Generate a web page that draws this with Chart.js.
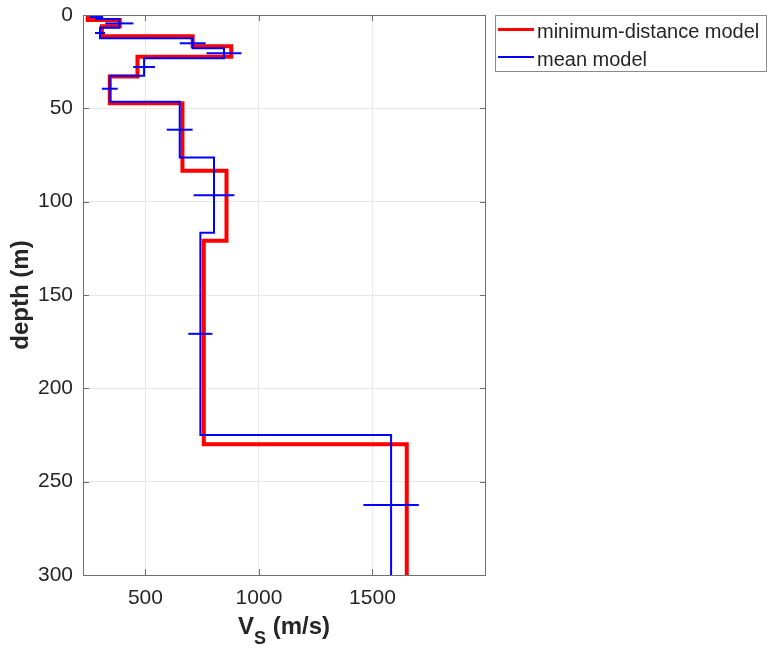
<!DOCTYPE html>
<html>
<head>
<meta charset="utf-8">
<script src="https://cdn.jsdelivr.net/npm/chart.js@4"></script>
<style>
  body { margin: 0; background: #fff; }
  #wrap { width: 767px; height: 649px; }
</style>
</head>
<body>
<div id="wrap"><canvas id="vsChart" width="767" height="649"></canvas></div>
<script>
// minimum-distance model: layer Vs (m/s) and layer boundaries (m)
const minDistVs = [246, 387, 308, 708, 878, 465, 343, 663, 857, 757, 1651];
const minDistDepth = [0, 2.7, 6, 11.4, 16.8, 22.3, 33, 47.3, 83.4, 121, 230, 300];

// mean model with +/- spread at layer mid-depth
const meanVs = [284, 385, 300, 708, 846, 494, 343, 651, 802, 742, 1582];
const meanDepth = [0, 2.2, 6.8, 12.5, 17.8, 23.2, 32.5, 46.5, 76.4, 116.6, 225, 300];
const meanErr = [30, 62, 22, 57, 77, 48, 35, 57, 90, 53, 122];

const xTicks = [500, 1000, 1500];

const FONT = '"Liberation Sans", Arial, Helvetica, sans-serif';
const TXT = '#262626';

// layer velocities -> step profile
function profile(vs, depth) {
    const pts = [];
    vs.forEach((v, i) => {
        pts.push({x: v, y: depth[i]});
        pts.push({x: v, y: depth[i + 1]});
    });
    return pts;
}

const errSets = meanVs.map((v, i) => {
    const mid = (meanDepth[i] + meanDepth[i + 1]) / 2;
    return {
        label: 'err' + i,
        data: [{x: v - meanErr[i], y: mid}, {x: v + meanErr[i], y: mid}],
        borderColor: '#0000ff',
        borderWidth: 2,
        showLine: true,
        pointRadius: 0,
        order: 0
    };
});

// box, inward ticks, axis titles and legend
const decor = {
    id: 'decor',
    afterDraw(chart) {
        const {ctx, chartArea: a, scales: {x, y}} = chart;
        ctx.save();
        ctx.strokeStyle = '#6e6e6e';
        ctx.lineWidth = 1;
        ctx.strokeRect(a.left + 0.5, a.top + 0.5, a.right - a.left - 1, a.bottom - a.top);
        ctx.beginPath();
        x.ticks.forEach(t => {
            const px = Math.round(x.getPixelForValue(t.value)) + 0.5;
            ctx.moveTo(px, a.bottom); ctx.lineTo(px, a.bottom - 6);
            ctx.moveTo(px, a.top); ctx.lineTo(px, a.top + 6);
        });
        y.ticks.forEach(t => {
            const py = Math.round(y.getPixelForValue(t.value)) + 0.5;
            ctx.moveTo(a.left, py); ctx.lineTo(a.left + 6, py);
            ctx.moveTo(a.right, py); ctx.lineTo(a.right - 6, py);
        });
        ctx.stroke();

        // x title with subscript
        ctx.fillStyle = TXT;
        ctx.textBaseline = 'alphabetic';
        ctx.textAlign = 'left';
        const big = 'bold 24px ' + FONT, small = 'bold 18px ' + FONT;
        ctx.font = big;
        const wV = ctx.measureText('V').width, wR = ctx.measureText(' (m/s)').width;
        ctx.font = small;
        const wS = ctx.measureText('S').width;
        let tx = 284 - (wV + wS + wR) / 2;
        ctx.font = big; ctx.fillText('V', tx, 634); tx += wV;
        ctx.font = small; ctx.fillText('S', tx, 644); tx += wS;
        ctx.font = big; ctx.fillText(' (m/s)', tx, 634);

        // y title
        ctx.save();
        ctx.translate(28, 295);
        ctx.rotate(-Math.PI / 2);
        ctx.textAlign = 'center';
        ctx.fillText('depth (m)', 0, 0);
        ctx.restore();

        // legend
        ctx.fillStyle = '#fff';
        ctx.fillRect(495, 15, 272, 56);
        ctx.strokeStyle = '#8a8a8a';
        ctx.strokeRect(495.5, 15.5, 271, 56);
        chart.data.datasets.slice(0, 2).forEach((ds, i) => {
            const ly = 29.5 + i * 27.5;
            ctx.strokeStyle = ds.borderColor;
            ctx.lineWidth = i === 0 ? 3 : 2;
            ctx.beginPath(); ctx.moveTo(498, ly); ctx.lineTo(534, ly); ctx.stroke();
            ctx.fillStyle = TXT;
            ctx.font = '20px ' + FONT;
            ctx.textAlign = 'left';
            ctx.fillText(ds.label, 537, 38 + i * 27.5);
        });
        ctx.restore();
    }
};

new Chart(document.getElementById('vsChart').getContext('2d'), {
    type: 'scatter',
    data: {
        datasets: [{
            label: 'minimum-distance model',
            data: profile(minDistVs, minDistDepth),
            borderColor: '#ff0000',
            borderWidth: 4,
            showLine: true,
            pointRadius: 0,
            order: 2
        }, {
            label: 'mean model',
            data: profile(meanVs, meanDepth),
            borderColor: '#0000ff',
            borderWidth: 2,
            showLine: true,
            pointRadius: 0,
            order: 1
        }].concat(errSets)
    },
    options: {
        responsive: false,
        devicePixelRatio: 1,
        animation: false,
        layout: {padding: {top: 15, right: 281, left: 0, bottom: 0}},
        plugins: {legend: {display: false}, tooltip: {enabled: false}},
        scales: {
            x: {
                type: 'linear',
                min: 225,
                max: 2000,
                afterBuildTicks: axis => { axis.ticks = xTicks.map(v => ({value: v})); },
                afterFit: scale => {
                    scale.height = 74;
                    scale.paddingLeft = 0;
                    scale.paddingRight = 0;
                },
                grid: {color: '#e8e8e8', drawTicks: false},
                border: {display: false},
                ticks: {color: TXT, font: {family: FONT, size: 21}, padding: 11,
                        callback: v => String(v)}
            },
            y: {
                type: 'linear',
                reverse: true,
                min: 0,
                max: 300,
                afterFit: scale => {
                    scale.width = 83;
                    scale.paddingTop = 0;
                    scale.paddingBottom = 0;
                },
                grid: {color: '#e8e8e8', drawTicks: false},
                border: {display: false},
                ticks: {stepSize: 50, color: TXT, font: {family: FONT, size: 21}, padding: 10,
                        callback: v => String(v)}
            }
        }
    },
    plugins: [decor]
});
</script>
</body>
</html>
